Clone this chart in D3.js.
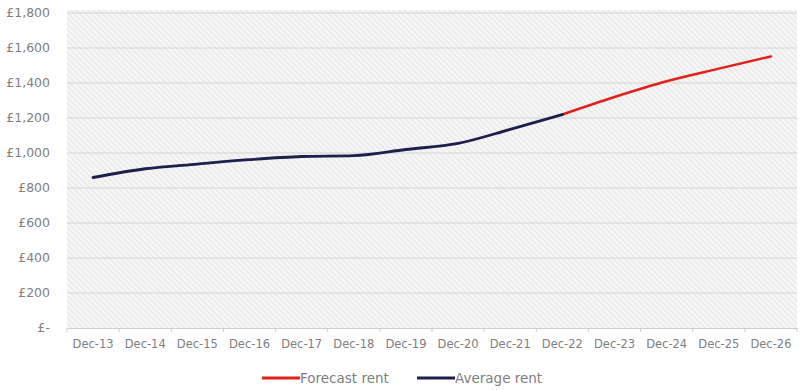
<!DOCTYPE html>
<html>
<head>
<meta charset="utf-8">
<script src="https://cdn.jsdelivr.net/npm/d3@7"></script>
<style>
  body { margin: 0; background: #fff; }
  text { font-family: "DejaVu Sans", sans-serif; }
</style>
</head>
<body>
<div id="chart"></div>
<script>
// data
var categories = ["Dec-13", "Dec-14", "Dec-15", "Dec-16", "Dec-17", "Dec-18", "Dec-19",
  "Dec-20", "Dec-21", "Dec-22", "Dec-23", "Dec-24", "Dec-25", "Dec-26"];
var averageRent = [860, 910, 937, 962, 980, 985, 1020, 1055, 1135, 1220, null, null, null, null];
var forecastRent = [null, null, null, null, null, null, null, null, null, 1220, 1320, 1410, 1482, 1552];
var yTicks = [0, 200, 400, 600, 800, 1000, 1200, 1400, 1600, 1800];

var svgWidth = 800;
var svgHeight = 390;
var margin = { top: 13, right: 3, bottom: 62, left: 67 };
var width = svgWidth - margin.left - margin.right;
var height = svgHeight - margin.top - margin.bottom;

var svg = d3.select("#chart").append("svg")
  .attr("width", svgWidth)
  .attr("height", svgHeight);

// hatched background
var pat = svg.append("defs").append("pattern")
  .attr("id", "hatch")
  .attr("patternUnits", "userSpaceOnUse")
  .attr("width", 4).attr("height", 4)
  .attr("patternTransform", "rotate(-45)");
pat.append("rect").attr("width", 4).attr("height", 4).attr("fill", "#f6f6f6");
pat.append("line").attr("x1", 0).attr("y1", 0).attr("x2", 0).attr("y2", 4)
  .attr("stroke", "#d8d8d8").attr("stroke-width", 1.2);

var g = svg.append("g").attr("transform", `translate(${margin.left},${margin.top})`);

var x = d3.scaleBand().domain(categories).range([0, width]);
var y = d3.scaleLinear().domain([0, 1800]).range([height, 0]);

g.append("rect")
  .attr("x", 0).attr("y", -3)
  .attr("width", width).attr("height", height + 3)
  .attr("fill", "url(#hatch)");

// gridlines
g.selectAll("line.grid")
  .data(yTicks.filter(d => d > 0))
  .enter().append("line")
  .attr("class", "grid")
  .attr("x1", 0).attr("x2", width)
  .attr("y1", d => y(d)).attr("y2", d => y(d))
  .attr("stroke", "#d4d4d4")
  .attr("stroke-width", 1);

// y axis labels
var fmt = d3.format(",");
g.selectAll("text.ylab")
  .data(yTicks)
  .enter().append("text")
  .attr("class", "ylab")
  .attr("x", -17)
  .attr("y", d => y(d) + 4)
  .attr("text-anchor", "end")
  .attr("font-size", "12.5px")
  .attr("fill", "#808080")
  .text(d => d === 0 ? "£-" : "£" + fmt(d));

// x axis
var xAxis = d3.axisBottom(x).tickSize(0).tickPadding(12);
var xg = g.append("g")
  .attr("transform", `translate(0,${height})`)
  .call(xAxis);
xg.select(".domain").attr("stroke", "#cfcfcf");
xg.selectAll("text")
  .attr("font-size", "11.5px")
  .attr("fill", "#808080")
  .style("font-family", "'DejaVu Sans', sans-serif");

// tick marks at band edges
xg.selectAll("line.edge")
  .data(categories.concat(["end"]))
  .enter().append("line")
  .attr("class", "edge")
  .attr("x1", (d, i) => i * x.step()).attr("x2", (d, i) => i * x.step())
  .attr("y1", 0).attr("y2", 4)
  .attr("stroke", "#cfcfcf");

// lines
var line = d3.line()
  .defined(d => d.v != null)
  .x(d => x(d.c) + x.bandwidth() / 2)
  .y(d => y(d.v))
  .curve(d3.curveMonotoneX);

var avgData = categories.map((c, i) => ({ c: c, v: averageRent[i] }));
var fcData = categories.map((c, i) => ({ c: c, v: forecastRent[i] }));

g.append("path")
  .datum(fcData)
  .attr("d", line)
  .attr("fill", "none")
  .attr("stroke", "#e3211c")
  .attr("stroke-width", 2.5)
  .attr("stroke-linecap", "round");

g.append("path")
  .datum(avgData)
  .attr("d", line)
  .attr("fill", "none")
  .attr("stroke", "#1f1f4e")
  .attr("stroke-width", 2.8)
  .attr("stroke-linecap", "round");

// legend
var legend = [
  { name: "Forecast rent", color: "#e3211c", x: 262 },
  { name: "Average rent", color: "#1f1f4e", x: 417 }
];
var lg = svg.selectAll("g.legend")
  .data(legend)
  .enter().append("g")
  .attr("class", "legend")
  .attr("transform", d => `translate(${d.x},378)`);
lg.append("line")
  .attr("x1", 0).attr("x2", 38)
  .attr("stroke", d => d.color)
  .attr("stroke-width", 2.8);
lg.append("text")
  .attr("x", 38).attr("y", 5)
  .attr("font-size", "13.5px")
  .attr("fill", "#808080")
  .text(d => d.name);
</script>
</body>
</html>
